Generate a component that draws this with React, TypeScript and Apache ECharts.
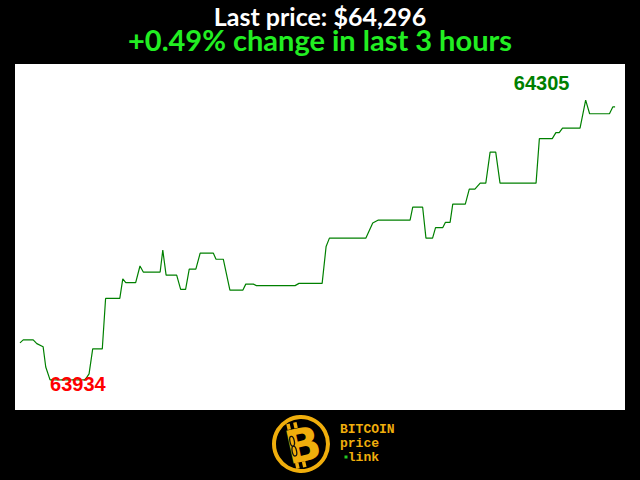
import React, { useEffect, useRef } from "react";
import * as echarts from "echarts";

const titleText = "Last price: $64,296";
const subtitleText = "+0.49% change in last 3 hours";

// minutes since start of the 3-hour window
const minutes = [
  0, 1.0, 4.0, 5.1, 7.0, 7.8, 9.1, 19.7, 20.9, 22.0, 24.9, 25.9, 30.2, 31.1, 32.0, 35.0,
  36.3, 37.3, 42.4, 43.2, 44.2, 47.4, 48.6, 50.1, 51.2, 53.2, 54.5, 58.5, 59.3, 61.5,
  63.5, 67.4, 68.3, 70.6, 71.5, 83.2, 84.4, 91.4, 92.6, 93.6, 104.6, 106.7, 108.4, 118.0,
  118.8, 121.8, 122.8, 124.8, 125.7, 127.9, 128.7, 130.1, 130.9, 134.7, 135.9, 137.6,
  139.2, 140.9, 142.2, 143.9, 145.2, 156.1, 157.1, 161.0, 162.1, 163.1, 164.1, 169.4,
  171.1, 172.3, 178.3, 179.3, 180,
];
// BTC price (USD)
const prices = [
  63983, 63987, 63987, 63982, 63978, 63951, 63934, 63934, 63942, 63975, 63975, 64042, 64042, 64068, 64063, 64063,
  64085, 64077, 64077, 64106, 64073, 64073, 64054, 64054, 64081, 64081, 64102, 64102, 64094, 64094,
  64053, 64053, 64061, 64061, 64059, 64059, 64062, 64062, 64111, 64122, 64122, 64142, 64146, 64146,
  64163, 64163, 64122, 64122, 64136, 64136, 64143, 64143, 64167, 64167, 64187, 64187,
  64195, 64195, 64236, 64236, 64195, 64195, 64254, 64254, 64262, 64262, 64268, 64268,
  64305, 64287, 64287, 64296, 64296,
];
const logoLines = ["BITCOIN", "price", " link"];

export default function App() {
  const ref = useRef<HTMLDivElement>(null);
  useEffect(() => {
    if (!ref.current) return;
    const chart = echarts.init(ref.current, null, { renderer: "svg" });
    const data = minutes.map((m, i) => [m, prices[i]]);
    let minI = 0, maxI = 0;
    prices.forEach((p, i) => {
      if (p < prices[minI]) minI = i;
      if (p > prices[maxI]) maxI = i;
    });
    const orange = "#f0ae0c";
    chart.setOption({
      animation: false,
      backgroundColor: "#000000",
      title: {
        text: `{a|${titleText}}\n{b|${subtitleText}}`,
        left: "center",
        top: 4,
        padding: 0,
        textStyle: {
          rich: {
            a: { color: "#ffffff", fontSize: 25, lineHeight: 23, fontWeight: "bold", fontFamily: "Lato" },
            b: { color: "#22ee22", fontSize: 29, lineHeight: 24, fontWeight: "bold", fontFamily: "Lato" },
          },
        },
      },
      grid: {
        left: 15,
        right: 15,
        top: 64,
        bottom: 70,
        show: true,
        backgroundColor: "#ffffff",
        borderWidth: 0,
      },
      xAxis: {
        type: "value",
        min: -1.5,
        max: 183,
        axisLine: { show: false },
        axisTick: { show: false },
        axisLabel: { show: false },
        splitLine: { show: false },
      },
      yAxis: {
        type: "value",
        min: 63894,
        max: 64353,
        axisLine: { show: false },
        axisTick: { show: false },
        axisLabel: { show: false },
        splitLine: { show: false },
      },
      series: [
        {
          type: "line",
          data,
          showSymbol: false,
          lineStyle: { color: "#008000", width: 1.2 },
          itemStyle: { color: "#008000" },
          markPoint: {
            symbol: "circle",
            symbolSize: 0,
            data: [
              {
                coord: data[minI],
                value: prices[minI],
                label: {
                  show: true,
                  position: "inside",
                  align: "left",
                  verticalAlign: "middle",
                  offset: [0, 4],
                  color: "#ff0000",
                  fontSize: 20,
                  fontWeight: "bold",
                  fontFamily: "Liberation Sans",
                  formatter: String(prices[minI]),
                },
              },
              {
                coord: data[maxI],
                value: prices[maxI],
                label: {
                  show: true,
                  position: "inside",
                  align: "center",
                  verticalAlign: "middle",
                  offset: [-44, -17],
                  color: "#008000",
                  fontSize: 20,
                  fontWeight: "bold",
                  fontFamily: "Liberation Sans",
                  formatter: String(prices[maxI]),
                },
              },
            ],
          },
        },
      ],
      graphic: [
        {
          type: "circle",
          shape: { cx: 301, cy: 444, r: 27 },
          style: { fill: "none", stroke: orange, lineWidth: 4 },
        },
        {
          type: "group",
          x: 303,
          y: 444,
          rotation: 0.22,
          children: [
            { type: "rect", shape: { x: -12, y: -23, width: 3.5, height: 6 }, style: { fill: orange } },
            { type: "rect", shape: { x: -5, y: -23, width: 3.5, height: 6 }, style: { fill: orange } },
            { type: "rect", shape: { x: -12, y: 17, width: 3.5, height: 6 }, style: { fill: orange } },
            { type: "rect", shape: { x: -5, y: 17, width: 3.5, height: 6 }, style: { fill: orange } },
            {
              type: "text",
              x: 0,
              y: 1,
              style: {
                text: "B",
                fill: orange,
                font: "900 46px 'DejaVu Sans'",
                align: "center",
                verticalAlign: "middle",
              },
            },
            { type: "ellipse", shape: { cx: -10, cy: -5, rx: 2.2, ry: 5 }, style: { fill: "none", stroke: "#111", lineWidth: 1.3 } },
            { type: "ellipse", shape: { cx: -10, cy: 5, rx: 2.2, ry: 5 }, style: { fill: "none", stroke: "#111", lineWidth: 1.3 } },
          ],
        },
        {
          type: "text",
          x: 340,
          y: 422,
          style: {
            text: logoLines.join("\n"),
            fill: orange,
            font: "bold 13px 'Liberation Mono'",
            lineHeight: 14,
            align: "left",
            verticalAlign: "top",
          },
        },
        {
          type: "rect",
          shape: { x: 344.5, y: 455.5, width: 3, height: 3 },
          style: { fill: "#22cc22" },
        },
      ],
    });
    return () => chart.dispose();
  }, []);
  return (
    <div
      ref={ref}
      style={{ position: "fixed", left: 0, top: 0, width: 640, height: 480 }}
    />
  );
}
